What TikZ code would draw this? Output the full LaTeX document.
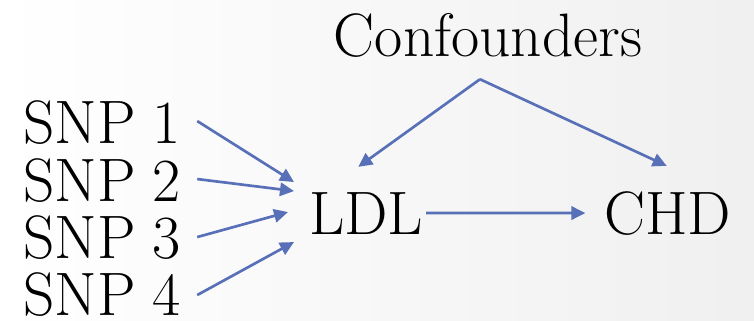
\documentclass[tikz,border=0pt]{standalone}
\usepackage{tikz}
\usetikzlibrary{arrows.meta}
\usetikzlibrary{shadings}

\definecolor{linkblue}{RGB}{88,112,184}

\begin{document}
\begin{tikzpicture}[x=0.75pt,y=0.75pt,yscale=-1,xscale=1,
  lbl/.style={inner sep=0pt,font=\fontsize{46}{50}\selectfont},
  link/.style={draw=linkblue,line width=2pt,-{Triangle[length=10.5pt,width=10pt]}}]
%Background
\shade [left color=white,right color=black!6] (0,0) rectangle (754,321);

%Text: Confounders
\node [lbl,anchor=base] (conf) at (488,57) {Confounders};
%Text: SNPs
\node [lbl,anchor=base west] (snp1) at (23,143) {SNP\hspace{0.28em}1};
\node [lbl,anchor=base west] (snp2) at (23,201) {SNP\hspace{0.28em}2};
\node [lbl,anchor=base west] (snp3) at (23,258) {SNP\hspace{0.28em}3};
\node [lbl,anchor=base west] (snp4) at (23,315) {SNP\hspace{0.28em}4};
%Text: LDL, CHD
\node [lbl,anchor=base west] (ldl) at (309,234) {LDL};
\node [lbl,anchor=base west] (chd) at (604,234) {CHD};

%Straight Lines: SNPs to LDL
\draw [link] ([shift={(16,-1)}]snp1.east) -- ([shift={(-15,-31)}]ldl.west);
\draw [link] ([shift={(16,-1)}]snp2.east) -- ([shift={(-15,-22)}]ldl.west);
\draw [link] ([shift={(16,0)}]snp3.east) -- ([shift={(-21,-1)}]ldl.west);
\draw [link] ([shift={(16,1)}]snp4.east) -- ([shift={(-15,29)}]ldl.west);
%Straight Lines: Confounders
\coordinate (apex) at ([shift={(-8,21)}]conf.south);
\draw [link] (apex) -- ([shift={(-8,-25)}]ldl.north);
\draw [link] (apex) -- ([shift={(-1,-25)}]chd.north);
%Straight Lines: LDL to CHD
\draw [link,shorten <=2pt,shorten >=14pt] (ldl) -- (chd);

\end{tikzpicture}
\end{document}
